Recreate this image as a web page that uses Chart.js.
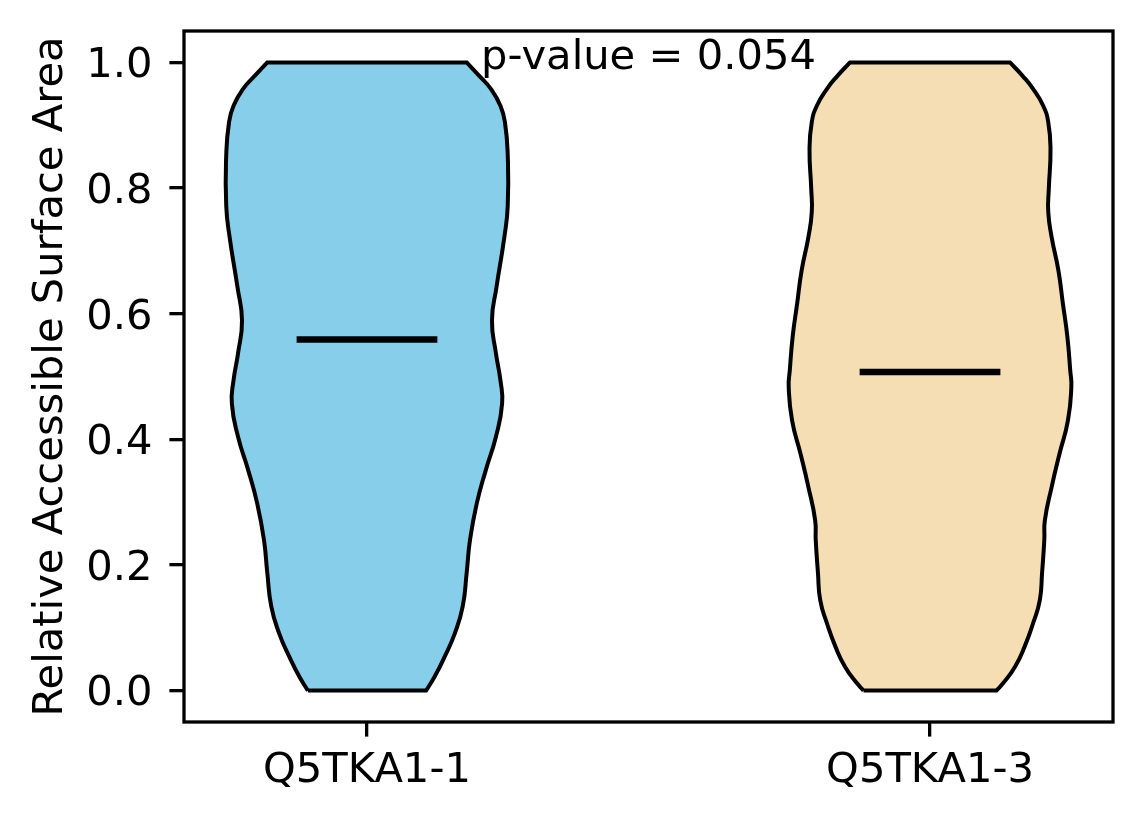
<!DOCTYPE html>
<html>
<head>
<meta charset="utf-8">
<script src="https://cdn.jsdelivr.net/npm/chart.js@4.4.1/dist/chart.umd.min.js"></script>
<style>
    html, body { margin: 0; padding: 0; background: #fff; }
    #wrap { width: 1144px; height: 824px; }
</style>
</head>
<body>
<div id="wrap"><canvas id="violinChart" width="1144" height="824"></canvas></div>
<script>
var categories = ['Q5TKA1-1', 'Q5TKA1-3'];
var yTicks = [0.0, 0.2, 0.4, 0.6, 0.8, 1.0];
var medians = [0.559, 0.507];
var pValueText = 'p-value = 0.054';
var fillColors = ['#87CEEB', '#F5DEB3'];

// violin outlines: y level and half width (x units)
var levels1 = [0, 0.022, 0.054, 0.091, 0.134, 0.187, 0.240, 0.298, 0.351, 0.404, 0.457, 0.494,
    0.537, 0.589, 0.642, 0.722, 0.772, 0.852, 0.905, 0.931, 0.958, 0.979, 1.0];
var halfWidth1 = [0.105, 0.120, 0.138, 0.156, 0.170, 0.177, 0.183, 0.195, 0.211, 0.229, 0.240, 0.237,
    0.229, 0.222, 0.230, 0.244, 0.250, 0.250, 0.245, 0.237, 0.220, 0.199, 0.177];

var levels2 = [0, 0.012, 0.038, 0.070, 0.107, 0.144, 0.187, 0.240, 0.271, 0.324, 0.377, 0.430, 0.483,
    0.510, 0.563, 0.616, 0.669, 0.722, 0.762, 0.799, 0.862, 0.905, 0.931, 0.958, 0.979, 1.0];
var halfWidth2 = [0.118, 0.130, 0.151, 0.168, 0.183, 0.195, 0.199, 0.203, 0.204, 0.216, 0.230, 0.245, 0.251,
    0.249, 0.244, 0.236, 0.228, 0.216, 0.210, 0.211, 0.214, 0.210, 0.201, 0.183, 0.164, 0.142];

var FONT = 'DejaVu Sans';
var FONT_SIZE = 41.67;

// closed outline, corners doubled so the spline keeps them sharp
function outline(center, levels, half) {
    var pts = [];
    var n = levels.length;
    for (var i = 0; i < n; i++) pts.push({x: center - half[i], y: levels[i]});
    pts.push({x: center - half[n - 1], y: levels[n - 1]});
    pts.push({x: center + half[n - 1], y: levels[n - 1]});
    for (var j = n - 1; j >= 0; j--) pts.push({x: center + half[j], y: levels[j]});
    pts.push({x: center + half[0], y: levels[0]});
    pts.push({x: center - half[0], y: levels[0]});
    return pts;
}

var shapes = [[levels1, halfWidth1], [levels2, halfWidth2]];
var datasets = [];

medians.forEach(function(m, i) {
    var c = i + 1;
    datasets.push({
        data: [{x: c - 0.125, y: m}, {x: c + 0.125, y: m}],
        showLine: true,
        borderColor: '#000',
        borderWidth: 6.5,
        borderCapStyle: 'butt',
        pointRadius: 0,
        order: 0
    });
});

shapes.forEach(function(s, i) {
    datasets.push({
        data: outline(i + 1, s[0], s[1]),
        showLine: true,
        fill: 'shape',
        backgroundColor: fillColors[i],
        borderColor: '#000',
        borderWidth: 4,
        borderJoinStyle: 'miter',
        tension: 0.5,
        pointRadius: 0,
        order: 1
    });
});

var framePlugin = {
    id: 'frame',
    afterDraw: function(chart) {
        var a = chart.chartArea;
        var ctx = chart.ctx;
        ctx.save();
        ctx.strokeStyle = '#000';
        ctx.lineWidth = 3.3;
        ctx.strokeRect(a.left, a.top, a.right - a.left, a.bottom - a.top);

        // p-value note between the violins
        ctx.fillStyle = '#000';
        ctx.font = FONT_SIZE + 'px "' + FONT + '"';
        ctx.textAlign = 'center';
        ctx.textBaseline = 'alphabetic';
        ctx.fillText(pValueText, chart.scales.x.getPixelForValue(1.5), chart.scales.y.getPixelForValue(0.99));
        ctx.restore();
    }
};

var tickGrid = {
    display: true,
    drawOnChartArea: false,
    drawTicks: true,
    tickLength: 14.6,
    tickWidth: 3.3,
    tickColor: '#000',
    color: '#000',
    lineWidth: 3.3
};

function noOverhang(scale) {
    scale.paddingTop = 0;
    scale.paddingBottom = 0;
    scale.paddingLeft = 0;
    scale.paddingRight = 0;
}

var ctx = document.getElementById('violinChart');
var chart = new Chart(ctx, {
    type: 'scatter',
    data: { datasets: datasets },
    plugins: [framePlugin],
    options: {
        responsive: false,
        animation: false,
        devicePixelRatio: 1,
        layout: { padding: { top: 31, right: 31, left: 0, bottom: 0 } },
        plugins: {
            legend: { display: false },
            tooltip: { enabled: false }
        },
        scales: {
            x: {
                type: 'linear',
                min: 0.675,
                max: 2.325,
                grid: tickGrid,
                border: { display: false },
                afterBuildTicks: function(scale) {
                    scale.ticks = categories.map(function(c, i) { return {value: i + 1}; });
                },
                afterFit: function(scale) { scale.height = 102; noOverhang(scale); },
                ticks: {
                    color: '#000',
                    padding: 14,
                    font: { family: FONT, size: FONT_SIZE, lineHeight: 1.0 },
                    maxRotation: 0,
                    callback: function(value, index) { return categories[index]; }
                }
            },
            y: {
                min: -0.05,
                max: 1.05,
                grid: tickGrid,
                border: { display: false },
                afterBuildTicks: function(scale) {
                    scale.ticks = yTicks.map(function(v) { return {value: v}; });
                },
                afterFit: function(scale) { scale.width = 184; noOverhang(scale); },
                ticks: {
                    color: '#000',
                    padding: 17,
                    labelOffset: 4,
                    font: { family: FONT, size: FONT_SIZE },
                    callback: function(value) { return value.toFixed(1); }
                },
                title: {
                    display: true,
                    text: 'Relative Accessible Surface Area',
                    color: '#000',
                    font: { family: FONT, size: FONT_SIZE, lineHeight: 1.2 },
                    padding: { top: 26, bottom: 0 }
                }
            }
        }
    }
});
</script>
</body>
</html>
